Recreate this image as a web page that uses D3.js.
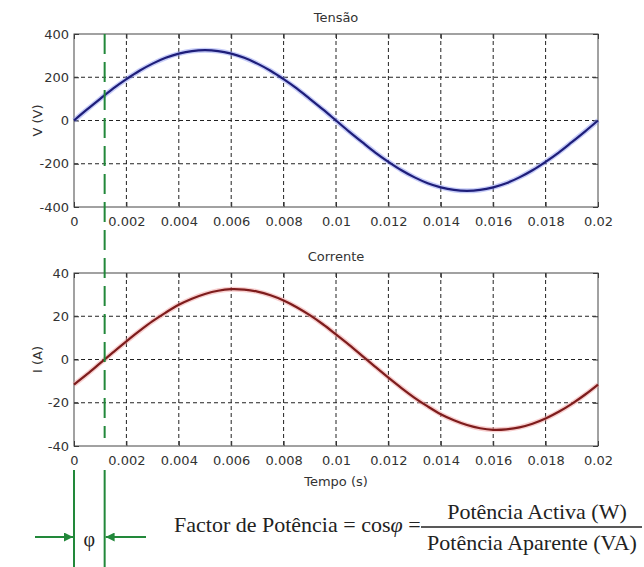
<!DOCTYPE html>
<html>
<head>
<meta charset="utf-8">
<script src="https://cdn.jsdelivr.net/npm/d3@7"></script>
<style>
  body { margin: 0; background: #fff; }
  svg { display: block; }
  .axis text { font-family: 'DejaVu Sans', sans-serif; font-size: 13px; fill: #333; }
  .axis .domain { display: none; }
  .axis line { stroke: #333; }
</style>
</head>
<body>
<svg id="svg"></svg>
<script>
// values (one period, 50 Hz)
const sampleTimes = [0, 0.0005, 0.001, 0.0015, 0.002, 0.0025, 0.003, 0.0035, 0.004, 0.0045,
  0.005, 0.0055, 0.006, 0.0065, 0.007, 0.0075, 0.008, 0.0085, 0.009, 0.0095,
  0.01, 0.0105, 0.011, 0.0115, 0.012, 0.0125, 0.013, 0.0135, 0.014, 0.0145,
  0.015, 0.0155, 0.016, 0.0165, 0.017, 0.0175, 0.018, 0.0185, 0.019, 0.0195, 0.02];

const voltageValues = [0, 51, 100, 148, 191, 230, 263, 290, 309, 321,
  325, 321, 309, 290, 263, 230, 191, 148, 100, 51,
  0, -51, -100, -148, -191, -230, -263, -290, -309, -321,
  -325, -321, -309, -290, -263, -230, -191, -148, -100, -51, 0];

const currentValues = [-11.6, -6.8, -1.7, 3.4, 8.4, 13.2, 17.7, 21.7, 25.3, 28.1,
  30.3, 31.8, 32.5, 32.3, 31.4, 29.7, 27.3, 24.2, 20.5, 16.3,
  11.6, 6.8, 1.7, -3.4, -8.4, -13.2, -17.7, -21.7, -25.3, -28.1,
  -30.3, -31.8, -32.5, -32.3, -31.4, -29.7, -27.3, -24.2, -20.5, -16.3, -11.6];

const timeTicks = [0, 0.002, 0.004, 0.006, 0.008, 0.01, 0.012, 0.014, 0.016, 0.018, 0.02];
const voltageTicks = [-400, -200, 0, 200, 400];
const currentTicks = [-40, -20, 0, 20, 40];

// time where the current crosses zero (phase shift)
const phaseTime = 0.00117;

const margin = { left: 74 };
const width = 524;
const panelHeight = 173;

const svg = d3.select('#svg')
  .attr('width', 644)
  .attr('height', 567);

// x scale shared by both panels
const xScale = d3.scaleLinear()
  .domain([0, 0.02])
  .range([0, width]);

const panels = [
  { title: 'Tensão', top: 34, values: voltageValues, ticks: voltageTicks, label: 'V (V)',
    core: '#1e1e7a', halo: '#8e9af2' },
  { title: 'Corrente', top: 273, values: currentValues, ticks: currentTicks, label: 'I (A)',
    core: '#7e1c1c', halo: '#f2a0a0' }
];

panels.forEach(p => {
  const yScale = d3.scaleLinear()
    .domain([p.ticks[0], p.ticks[p.ticks.length - 1]])
    .range([panelHeight, 0]);

  const g = svg.append('g')
    .attr('transform', `translate(${margin.left}, ${p.top})`);

  // GRID
  g.append('g')
    .selectAll('line')
    .data(timeTicks.slice(1, -1))
    .enter()
    .append('line')
    .attr('x1', d => xScale(d))
    .attr('x2', d => xScale(d))
    .attr('y1', 0)
    .attr('y2', panelHeight)
    .attr('stroke', '#222')
    .attr('stroke-dasharray', '4,3');

  g.append('g')
    .selectAll('line')
    .data(p.ticks.slice(1, -1))
    .enter()
    .append('line')
    .attr('x1', 0)
    .attr('x2', width)
    .attr('y1', d => yScale(d))
    .attr('y2', d => yScale(d))
    .attr('stroke', '#222')
    .attr('stroke-dasharray', '4,3');

  // AXES (ticks point inwards)
  g.append('g')
    .attr('class', 'axis')
    .call(d3.axisLeft(yScale).tickValues(p.ticks).tickFormat(d => String(d))
      .tickSizeInner(-5).tickSizeOuter(0).tickPadding(5));

  g.append('g')
    .attr('class', 'axis')
    .attr('transform', `translate(${width}, 0)`)
    .call(d3.axisRight(yScale).tickValues(p.ticks).tickFormat('')
      .tickSizeInner(-5).tickSizeOuter(0));

  g.append('g')
    .attr('class', 'axis')
    .attr('transform', `translate(0, ${panelHeight})`)
    .call(d3.axisBottom(xScale).tickValues(timeTicks).tickFormat(d => String(d))
      .tickSizeInner(-5).tickSizeOuter(0).tickPadding(10));

  g.append('g')
    .attr('class', 'axis')
    .call(d3.axisTop(xScale).tickValues(timeTicks).tickFormat('')
      .tickSizeInner(-5).tickSizeOuter(0));

  // FRAME
  g.append('rect')
    .attr('width', width)
    .attr('height', panelHeight)
    .attr('fill', 'none')
    .attr('stroke', '#444');

  // CURVE
  const line = d3.line()
    .x((d, i) => xScale(sampleTimes[i]))
    .y(d => yScale(d))
    .curve(d3.curveCatmullRom);

  g.append('path')
    .attr('d', line(p.values))
    .attr('fill', 'none')
    .attr('stroke', p.halo)
    .attr('stroke-width', 5)
    .attr('opacity', 0.5);

  g.append('path')
    .attr('d', line(p.values))
    .attr('fill', 'none')
    .attr('stroke', p.core)
    .attr('stroke-width', 2.2);

  // TITLE
  g.append('text')
    .attr('x', width / 2)
    .attr('y', -12)
    .attr('text-anchor', 'middle')
    .attr('font-family', 'DejaVu Sans, sans-serif')
    .attr('font-size', '13px')
    .attr('fill', '#333')
    .text(p.title);

  // Y AXIS LABEL
  g.append('text')
    .attr('transform', 'rotate(-90)')
    .attr('x', -panelHeight / 2)
    .attr('y', -32)
    .attr('text-anchor', 'middle')
    .attr('font-family', 'DejaVu Sans, sans-serif')
    .attr('font-size', '13px')
    .attr('fill', '#333')
    .text(p.label);
});

// X AXIS LABEL
svg.append('text')
  .attr('x', margin.left + width / 2)
  .attr('y', 486)
  .attr('text-anchor', 'middle')
  .attr('font-family', 'DejaVu Sans, sans-serif')
  .attr('font-size', '13px')
  .attr('fill', '#333')
  .text('Tempo (s)');

// PHASE MARKER
const green = '#22883a';
const phaseX = margin.left + xScale(phaseTime);
const zeroX = margin.left + xScale(0);

svg.append('line')
  .attr('x1', phaseX)
  .attr('x2', phaseX)
  .attr('y1', 34)
  .attr('y2', 438)
  .attr('stroke', green)
  .attr('stroke-width', 2)
  .attr('stroke-dasharray', '20,8');

svg.append('defs').append('marker')
  .attr('id', 'arrow')
  .attr('viewBox', '0 0 10 10')
  .attr('refX', 10)
  .attr('refY', 5)
  .attr('markerWidth', 10)
  .attr('markerHeight', 9)
  .attr('markerUnits', 'userSpaceOnUse')
  .attr('orient', 'auto')
  .append('path')
  .attr('d', 'M0,0 L10,5 L0,10 z')
  .attr('fill', green);

[zeroX, phaseX].forEach(x => {
  svg.append('line')
    .attr('x1', x)
    .attr('x2', x)
    .attr('y1', 470)
    .attr('y2', 567)
    .attr('stroke', green)
    .attr('stroke-width', 2);
});

svg.append('line')
  .attr('x1', 35)
  .attr('x2', zeroX - 1)
  .attr('y1', 537)
  .attr('y2', 537)
  .attr('stroke', green)
  .attr('stroke-width', 2)
  .attr('marker-end', 'url(#arrow)');

svg.append('line')
  .attr('x1', 146)
  .attr('x2', phaseX + 1)
  .attr('y1', 537)
  .attr('y2', 537)
  .attr('stroke', green)
  .attr('stroke-width', 2)
  .attr('marker-end', 'url(#arrow)');

svg.append('text')
  .attr('x', (zeroX + phaseX) / 2)
  .attr('y', 546)
  .attr('text-anchor', 'middle')
  .attr('font-family', 'Liberation Serif, serif')
  .attr('font-size', '20px')
  .attr('fill', '#222')
  .text('φ');

// FORMULA
const formula = svg.append('text')
  .attr('x', 174)
  .attr('y', 532)
  .attr('font-family', 'Liberation Serif, serif')
  .attr('font-size', '22px')
  .attr('fill', '#222');
formula.append('tspan').text('Factor de Potência = cos');
formula.append('tspan').attr('font-style', 'italic').text('φ');
formula.append('tspan').text(' =');

svg.append('text')
  .attr('x', 537)
  .attr('y', 519)
  .attr('text-anchor', 'middle')
  .attr('font-family', 'Liberation Serif, serif')
  .attr('font-size', '22px')
  .attr('fill', '#222')
  .text('Potência Activa (W)');

svg.append('line')
  .attr('x1', 421)
  .attr('x2', 642)
  .attr('y1', 527)
  .attr('y2', 527)
  .attr('stroke', '#222')
  .attr('stroke-width', 1.5);

svg.append('text')
  .attr('x', 532)
  .attr('y', 550)
  .attr('text-anchor', 'middle')
  .attr('font-family', 'Liberation Serif, serif')
  .attr('font-size', '22px')
  .attr('fill', '#222')
  .text('Potência Aparente (VA)');
</script>
</body>
</html>
